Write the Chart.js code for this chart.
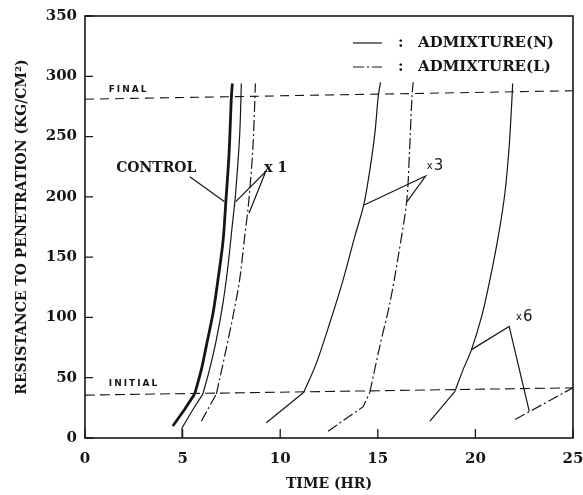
<!DOCTYPE html>
<html>
<head>
<meta charset="utf-8">
<script src="https://cdn.jsdelivr.net/npm/chart.js@4.4.1/dist/chart.umd.min.js"></script>
<style>
html, body { margin: 0; padding: 0; background: #fff; }
#wrap { width: 583px; height: 495px; }
</style>
</head>
<body>
<div id="wrap"><canvas id="c"></canvas></div>
<script>
// tick values
var xTicks = [0, 5, 10, 15, 20, 25];
var yTicks = [0, 50, 100, 150, 200, 250, 300, 350];

// setting curves (time in hr, resistance in kg/cm2)
// each one is a straight start up to the "initial" point, then a curve
var controlX = [4.5, 5.1, 5.62, 5.96, 6.21, 6.56, 6.81, 7.07, 7.22, 7.38, 7.5, 7.55];
var controlY = [10, 23.6, 36.6, 56.7, 76, 103.6, 131, 163, 197, 236, 283, 294];
var x1nX = [4.97, 4.97, 5.53, 6.04, 6.38, 6.73, 7.07, 7.32, 7.52, 7.7, 7.92, 8.01];
var x1nY = [0, 8.4, 23.6, 36.6, 56.7, 81.5, 112, 142, 172.6, 200, 250, 294];
var x1lX = [5.96, 6.47, 6.73, 7.15, 7.58, 7.92, 8.18, 8.37, 8.6, 8.73];
var x1lY = [13.9, 29, 36.6, 67.7, 100.8, 131, 167, 193, 240, 294];
var x3nX = [9.29, 11.21, 11.86, 12.54, 13.22, 13.82, 14.28, 14.59, 14.85, 15.02, 15.14];
var x3nY = [12.6, 37.9, 62.3, 95.4, 131, 167, 193.3, 222, 252.6, 283, 295];
var x3lX = [12.45, 14.25, 14.59, 15.1, 15.62, 16.04, 16.48, 16.62, 16.75, 16.81];
var x3lY = [5.6, 26, 37.9, 76, 112, 150, 196, 236, 283, 295];
var x6nX = [17.67, 18.95, 19.37, 19.8, 20.32, 20.74, 21.17, 21.51, 21.73, 21.86, 21.91];
var x6nY = [14, 38.7, 56.7, 73.3, 100.8, 131, 167, 203, 241.6, 277.5, 294];
var x6lX = [22.03, 24.98];
var x6lY = [15.3, 41.5];

// final / initial set lines
var finalX = [0, 25];
var finalY = [281, 288];
var initialX = [0, 25];
var initialY = [35.6, 41.6];

// leader lines for the labels
var ctrlLeadX = [5.37, 7.15];
var ctrlLeadY = [216.6, 196];
var x1LeadX = [7.72, 9.26, 8.4];
var x1LeadY = [196, 221, 186.4];
var x3LeadX = [14.3, 17.45, 16.5];
var x3LeadY = [193.3, 217.3, 196];
var x6LeadX = [19.8, 21.73, 22.76];
var x6LeadY = [73.3, 92.5, 22];

// text labels inside the plot
var noteText = ['CONTROL', 'x 1', 'x 3', 'x 6', 'FINAL', 'INITIAL'];
var noteX = [3.65, 9.77, 17.97, 22.54, 2.23, 2.51];
var noteY = [223.7, 223.8, 225.8, 100.6, 288.5, 44.9];

var ink = '#161616';
var dashDot = [11, 3, 2, 3];

function pts(xs, ys) {
    return xs.map(function (x, i) { return { x: x, y: ys[i] }; });
}

function line(xs, ys, width, dash, smooth) {
    return {
        data: pts(xs, ys),
        borderColor: ink,
        borderWidth: width,
        borderDash: dash || [],
        pointRadius: 0,
        fill: false,
        tension: smooth ? 0.3 : 0
    };
}

// straight piece up to index k, smooth curve from k on
function curve(xs, ys, k, width, dash) {
    return [
        line(xs.slice(0, k + 1), ys.slice(0, k + 1), width, dash, false),
        line(xs.slice(k), ys.slice(k), width, dash, true)
    ];
}

var framePlugin = {
    id: 'frame',
    afterDatasetsDraw: function (chart) {
        var ctx = chart.ctx, a = chart.chartArea,
            xs = chart.scales.x, ys = chart.scales.y;
        ctx.save();
        ctx.strokeStyle = ink;
        ctx.lineWidth = 1.6;
        ctx.strokeRect(a.left, a.top, a.right - a.left, a.bottom - a.top);
        // inward tick marks
        ctx.lineWidth = 1.3;
        ctx.beginPath();
        xTicks.forEach(function (v) {
            var p = xs.getPixelForValue(v);
            ctx.moveTo(p, a.bottom);
            ctx.lineTo(p, a.bottom - 9);
        });
        yTicks.forEach(function (v) {
            var p = ys.getPixelForValue(v);
            ctx.moveTo(a.left, p);
            ctx.lineTo(a.left + 8, p);
        });
        ctx.stroke();

        // notes
        ctx.fillStyle = ink;
        ctx.textAlign = 'center';
        ctx.textBaseline = 'middle';
        noteText.forEach(function (t, i) {
            var px = xs.getPixelForValue(noteX[i]), py = ys.getPixelForValue(noteY[i]);
            if (t === 'FINAL' || t === 'INITIAL') {
                ctx.font = 'bold 9px "DejaVu Sans"';
                ctx.letterSpacing = '2px';
                ctx.fillText(t, px, py);
                ctx.letterSpacing = '0px';
            } else if (t === 'x 3' || t === 'x 6') {
                ctx.textAlign = 'left';
                ctx.font = '10px "DejaVu Sans"';
                ctx.fillText('x', px - 9, py + 1);
                ctx.font = '15px "DejaVu Sans"';
                ctx.fillText(t.slice(2), px - 2, py);
                ctx.textAlign = 'center';
            } else {
                ctx.font = 'bold 14px "DejaVu Serif"';
                ctx.fillText(t, px, py);
            }
        });

        // legend
        ctx.lineWidth = 1.2;
        ctx.beginPath();
        ctx.moveTo(353, 43); ctx.lineTo(382, 43);
        ctx.stroke();
        ctx.setLineDash(dashDot);
        ctx.beginPath();
        ctx.moveTo(353, 67); ctx.lineTo(382, 67);
        ctx.stroke();
        ctx.setLineDash([]);
        ctx.textAlign = 'left';
        ctx.font = 'bold 15px "DejaVu Serif"';
        ctx.fillText(':', 398, 43);
        ctx.fillText(':', 398, 67);
        ctx.fillText('ADMIXTURE(N)', 418, 43);
        ctx.fillText('ADMIXTURE(L)', 418, 67);
        ctx.restore();
    }
};

var sets = [].concat(
    curve(controlX, controlY, 2, 2.8),
    curve(x1nX, x1nY, 3, 1.2),
    curve(x1lX, x1lY, 2, 1.2, dashDot),
    curve(x3nX, x3nY, 1, 1.2),
    curve(x3lX, x3lY, 2, 1.2, dashDot),
    curve(x6nX, x6nY, 1, 1.2),
    [
        line(x6lX, x6lY, 1.2, dashDot),
        line(finalX, finalY, 1.1, [9, 6]),
        line(initialX, initialY, 1.1, [10, 5]),
        line(ctrlLeadX, ctrlLeadY, 1.2),
        line(x1LeadX, x1LeadY, 1.2),
        line(x3LeadX, x3LeadY, 1.2),
        line(x6LeadX, x6LeadY, 1.2)
    ]
);

var ct = document.getElementById('c');
var chart = new Chart(ct.getContext('2d'), {
    type: 'line',
    data: { datasets: sets },
    options: {
        responsive: true,
        maintainAspectRatio: false,
        animation: false,
        parsing: false,
        layout: { padding: { top: 16, right: 10, left: 0, bottom: 0 } },
        plugins: {
            legend: { display: false },
            tooltip: { enabled: false }
        },
        scales: {
            x: {
                type: 'linear',
                min: 0,
                max: 25,
                afterBuildTicks: function (s) { s.ticks = xTicks.map(function (v) { return { value: v }; }); },
                afterFit: function (s) { s.height = 57; s.paddingLeft = 0; s.paddingRight = 0; },
                grid: { display: false },
                border: { display: false },
                ticks: {
                    color: ink,
                    padding: 4,
                    maxRotation: 0,
                    font: { family: '"DejaVu Serif"', size: 15, weight: 'bold' }
                },
                title: {
                    display: true,
                    text: 'TIME (HR)',
                    color: ink,
                    padding: { top: 0, bottom: 2 },
                    font: { family: '"DejaVu Serif"', size: 14, weight: 'bold' }
                }
            },
            y: {
                type: 'linear',
                min: 0,
                max: 350,
                afterBuildTicks: function (s) { s.ticks = yTicks.map(function (v) { return { value: v }; }); },
                afterFit: function (s) { s.width = 85; s.paddingTop = 0; s.paddingBottom = 0; },
                grid: { display: false },
                border: { display: false },
                ticks: {
                    color: ink,
                    padding: 0,
                    font: { family: '"DejaVu Serif"', size: 15, weight: 'bold' }
                },
                title: {
                    display: true,
                    text: 'RESISTANCE TO PENETRATION (KG/CM²)',
                    color: ink,
                    padding: { top: 14, bottom: 0 },
                    font: { family: '"DejaVu Serif"', size: 14, weight: 'bold' }
                }
            }
        }
    },
    plugins: [framePlugin]
});
</script>
</body>
</html>
